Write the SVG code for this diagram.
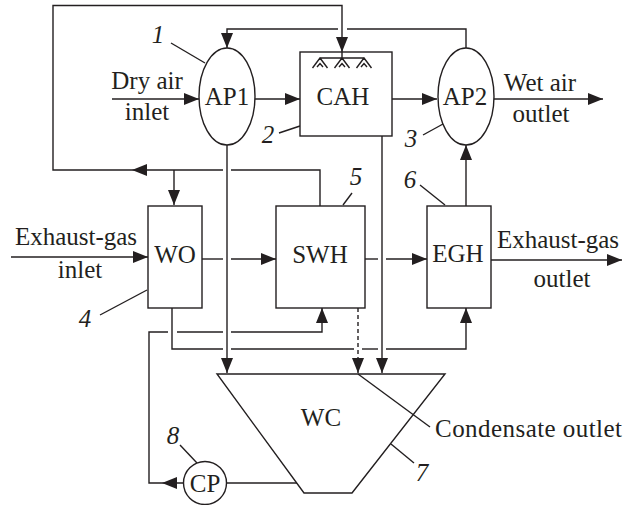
<svg xmlns="http://www.w3.org/2000/svg" width="633" height="505" viewBox="0 0 633 505">
<style>
.ln{fill:none;stroke:#231f20;stroke-width:1.4}
.nd{fill:#fff;stroke:#231f20;stroke-width:1.4}
.t{font-family:'Liberation Serif','DejaVu Serif',serif;font-size:25px;fill:#231f20;text-anchor:middle}
.n{font-family:'Liberation Serif','DejaVu Serif',serif;font-size:25px;font-style:italic;fill:#231f20;text-anchor:middle}
.ah{fill:#231f20;stroke:none}
</style>
<defs>
<marker id="arr" markerUnits="userSpaceOnUse" markerWidth="15" markerHeight="12" refX="15" refY="6" orient="auto" viewBox="0 0 15 12">
<path d="M0,0 L15,6 L0,12 z" fill="#231f20"/>
</marker>
</defs>
<rect width="633" height="505" fill="#fff"/>

<g id="connectors">
<path class="ln" d="M112,99 H199" marker-end="url(#arr)"/>
<path class="ln" d="M255,99 H300" marker-end="url(#arr)"/>
<path class="ln" d="M392,99 H437" marker-end="url(#arr)"/>
<path class="ln" d="M493,99 H603" marker-end="url(#arr)"/>
<path class="ln" d="M320,206 V170 H231"/>
<path class="ln" d="M223,170 H53 V5.5 H342 V52" marker-end="url(#arr)"/>
<polygon class="ah" points="132,170 147,164 147,176"/>
<path class="ln" d="M174,170 V205" marker-end="url(#arr)"/>
<path class="ln" d="M466,48 V29 H347"/>
<path class="ln" d="M338,29 H227 V48" marker-end="url(#arr)"/>
<path class="ln" d="M382,136 V373" marker-end="url(#arr)"/>
<path class="ln" d="M227,145 V373" marker-end="url(#arr)"/>
<path class="ln" d="M11,257 H148" marker-end="url(#arr)"/>
<path class="ln" d="M202,259 H223"/>
<path class="ln" d="M231,259 H276" marker-end="url(#arr)"/>
<path class="ln" d="M365,259 H378"/>
<path class="ln" d="M386,259 H427" marker-end="url(#arr)"/>
<path class="ln" d="M491,260 H622" marker-end="url(#arr)"/>
<path class="ln" d="M466,206 V145" marker-end="url(#arr)"/>
<path class="ln" d="M172,308 V349 H223"/>
<path class="ln" d="M231,349 H354"/>
<path class="ln" d="M362,349 H378"/>
<path class="ln" d="M386,349 H466 V308" marker-end="url(#arr)"/>
<path class="ln" d="M183,483 H149 V332 H168"/>
<path class="ln" d="M177,332 H223"/>
<path class="ln" d="M231,332 H322 V308" marker-end="url(#arr)"/>
<polygon class="ah" points="162,483 177,477 177,489"/>
<path class="ln" d="M227,483 H297"/>
<path class="ln" d="M358,308 V373" stroke-dasharray="4,3" marker-end="url(#arr)"/>
<path class="ln" d="M358,374 L430,427"/>
<path class="ln" d="M171,43 L205,63"/>
<path class="ln" d="M279,133 L300,126"/>
<path class="ln" d="M423,135 L443,124"/>
<path class="ln" d="M100,315 L147,290"/>
<path class="ln" d="M352,193 L343,205"/>
<path class="ln" d="M420,185 L445,205"/>
<path class="ln" d="M391,444 L414,463"/>
<path class="ln" d="M180,445 L197,463"/>
</g>

<g id="AP1">
<ellipse class="nd" cx="227" cy="96.5" rx="28" ry="48.5"/>
<text class="t" x="227" y="105">AP1</text>
</g>
<g id="CAH">
<rect class="nd" x="300" y="52" width="92" height="84"/>
<path class="ln" d="M342,52 V58 M320,58 H364 M312.5,68 L320,58 L327.5,68 M334.5,68 L342,58 L349.5,68 M356.5,68 L364,58 L371.5,68 M317,67 L320,63.5 L323,67 M339,67 L342,63.5 L345,67 M361,67 L364,63.5 L367,67"/>
<text class="t" x="343" y="105">CAH</text>
</g>
<g id="AP2">
<ellipse class="nd" cx="466" cy="96.5" rx="28" ry="48.5"/>
<text class="t" x="465" y="105">AP2</text>
</g>
<g id="WO">
<rect class="nd" x="148" y="206" width="54" height="102"/>
<text class="t" x="175" y="263">WO</text>
</g>
<g id="SWH">
<rect class="nd" x="276" y="206" width="89" height="102"/>
<text class="t" x="320" y="263">SWH</text>
</g>
<g id="EGH">
<rect class="nd" x="427" y="206" width="64" height="102"/>
<text class="t" x="458" y="262">EGH</text>
</g>
<g id="WC">
<polygon class="ln" points="217,374 445,374 352,493 304,493"/>
<text class="t" x="321" y="426">WC</text>
</g>
<g id="CP">
<circle class="nd" cx="205" cy="483" r="21.5"/>
<text class="t" x="205" y="492">CP</text>
</g>

<g id="labels">
<text class="t" x="147" y="89">Dry air</text>
<text class="t" x="147" y="120">inlet</text>
<text class="t" x="540" y="91">Wet air</text>
<text class="t" x="541" y="122">outlet</text>
<text class="t" x="76" y="245">Exhaust-gas</text>
<text class="t" x="80" y="278">inlet</text>
<text class="t" x="558" y="248">Exhaust-gas</text>
<text class="t" x="562" y="287">outlet</text>
<text class="t" x="435" y="437" style="text-anchor:start" textLength="187" lengthAdjust="spacing">Condensate outlet</text>
<text class="n" x="158" y="43">1</text>
<text class="n" x="268" y="143">2</text>
<text class="n" x="411" y="147">3</text>
<text class="n" x="85" y="327">4</text>
<text class="n" x="356" y="185">5</text>
<text class="n" x="410" y="188">6</text>
<text class="n" x="422" y="481">7</text>
<text class="n" x="173" y="444">8</text>
</g>
</svg>
